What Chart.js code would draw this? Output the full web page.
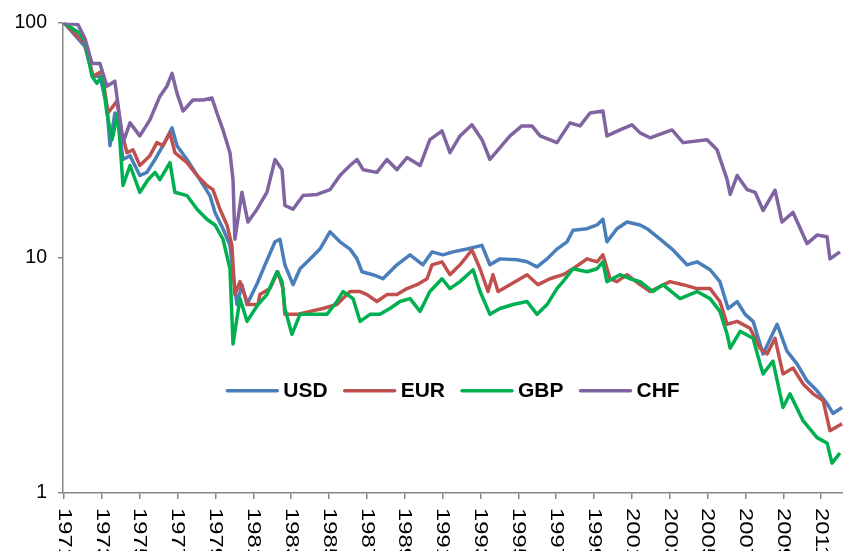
<!DOCTYPE html>
<html>
<head>
<meta charset="utf-8">
<script src="https://cdn.jsdelivr.net/npm/chart.js@4/dist/chart.umd.min.js"></script>
<style>
  html, body { margin: 0; padding: 0; background: #fff; }
  #wrap { position: relative; width: 843px; height: 551px; }
</style>
</head>
<body>
<div id="wrap"><canvas id="fxChart"></canvas></div>
<script>
// valores (índice, 1971 = 100), escala log
const tickYears = [1971, 1973, 1975, 1977, 1979, 1981, 1983, 1985, 1987, 1989, 1991,
                   1993, 1995, 1997, 1999, 2001, 2003, 2005, 2007, 2009, 2011];
const yTicks = [1, 10, 100];

const usdYears = [1971, 1972.11, 1972.53, 1972.90, 1973.27, 1973.43, 1973.69, 1973.85, 1974.12, 1974.49,
                  1975.01, 1975.38, 1975.81, 1976.23, 1976.71, 1976.97, 1977.50, 1978.18, 1978.71, 1978.98,
                  1979.40, 1979.77, 1980.03, 1980.14, 1980.40, 1980.67, 1981.25, 1981.62, 1982.15, 1982.41,
                  1982.67, 1983.10, 1983.47, 1984.00, 1984.52, 1985.05, 1985.58, 1986.11, 1986.48, 1986.74,
                  1987.32, 1987.85, 1988.59, 1989.28, 1989.96, 1990.44, 1991.02, 1991.55, 1992.29, 1993.08,
                  1993.50, 1994.03, 1994.93, 1995.46, 1995.99, 1996.52, 1997.04, 1997.57, 1997.89, 1998.63,
                  1999.16, 1999.47, 1999.68, 2000.21, 2000.74, 2001.43, 2001.80, 2002.49, 2003.12, 2003.91,
                  2004.44, 2005.13, 2005.65, 2006.08, 2006.56, 2006.98, 2007.40, 2007.93, 2008.67, 2009.19,
                  2009.72, 2010.25, 2010.78, 2011.31, 2011.62, 2012.10];
const usdValues = [100, 79.2, 59.2, 59.2, 44.2, 30.0, 41.3, 38.6, 26.2, 27.2,
                   22.4, 23.1, 26.2, 30.0, 35.7, 30.0, 26.2, 21.5, 18.4, 15.6,
                   13.3, 11.3, 7.40, 6.33, 7.69, 6.33, 7.92, 9.34, 11.7, 12.0,
                   9.34, 7.69, 8.99, 9.90, 10.9, 12.9, 11.7, 10.9, 9.90, 8.73,
                   8.48, 8.15, 9.34, 10.3, 9.34, 10.6, 10.3, 10.6, 10.9, 11.3,
                   9.34, 9.90, 9.81, 9.62, 9.16, 9.90, 10.9, 11.7, 13.1, 13.3,
                   13.8, 14.6, 11.7, 13.3, 14.2, 13.8, 13.3, 12.0, 10.9, 9.34,
                   9.62, 8.90, 7.92, 6.09, 6.52, 5.75, 5.37, 3.90, 5.22, 4.01,
                   3.54, 3.00, 2.72, 2.40, 2.18, 2.31];

const eurYears = [1971, 1972.11, 1972.53, 1973.01, 1973.32, 1973.80, 1974.06, 1974.33, 1974.65, 1975.01,
                  1975.54, 1975.91, 1976.23, 1976.60, 1976.86, 1977.50, 1978.03, 1978.55, 1978.87, 1979.24,
                  1979.61, 1979.87, 1980.03, 1980.30, 1980.72, 1981.25, 1981.35, 1981.88, 1982.30, 1982.57,
                  1982.67, 1983.31, 1984.00, 1984.68, 1985.42, 1986.11, 1986.64, 1987.01, 1987.53, 1988.06,
                  1988.59, 1989.12, 1989.65, 1990.18, 1990.44, 1990.97, 1991.39, 1991.92, 1992.55, 1992.98,
                  1993.40, 1993.66, 1993.93, 1994.56, 1995.46, 1996.04, 1996.67, 1997.36, 1997.89, 1998.63,
                  1999.16, 1999.47, 1999.84, 2000.21, 2000.74, 2001.43, 2001.96, 2003.01, 2003.70, 2004.44,
                  2005.13, 2005.65, 2006.03, 2006.56, 2007.24, 2007.77, 2008.14, 2008.56, 2008.98, 2009.51,
                  2010.04, 2010.57, 2011.10, 2011.46, 2012.10];
const eurValues = [100, 81.5, 59.2, 62.1, 41.3, 46.4, 34.0, 28.0, 28.8, 24.7,
                   27.2, 30.9, 30.0, 34.0, 28.0, 25.4, 22.4, 20.3, 19.5, 16.1,
                   13.8, 11.3, 6.98, 7.92, 6.33, 6.33, 6.98, 7.40, 8.73, 7.40,
                   5.75, 5.75, 5.92, 6.09, 6.33, 7.19, 7.19, 6.98, 6.52, 6.98,
                   6.98, 7.40, 7.69, 8.15, 9.34, 9.62, 8.48, 9.34, 10.8, 8.99,
                   7.19, 8.48, 7.19, 7.69, 8.48, 7.69, 8.15, 8.48, 8.99, 9.90,
                   9.62, 10.3, 8.15, 7.92, 8.48, 7.69, 7.19, 7.92, 7.69, 7.40,
                   7.40, 6.52, 5.22, 5.37, 5.02, 4.13, 3.90, 4.55, 3.21, 3.40,
                   2.91, 2.64, 2.47, 1.84, 1.97];

const gbpYears = [1971, 1971.85, 1972.11, 1972.48, 1972.74, 1973.01, 1973.27, 1973.54, 1973.85, 1974.12,
                  1974.49, 1975.01, 1975.44, 1975.81, 1976.07, 1976.60, 1976.86, 1977.50, 1978.03, 1978.55,
                  1978.98, 1979.40, 1979.77, 1979.93, 1980.30, 1980.67, 1981.25, 1981.72, 1982.25, 1982.52,
                  1982.67, 1983.04, 1983.47, 1984.15, 1984.89, 1985.42, 1985.74, 1986.27, 1986.64, 1987.17,
                  1987.69, 1988.22, 1988.75, 1989.28, 1989.81, 1990.33, 1990.97, 1991.39, 1991.92, 1992.61,
                  1992.98, 1993.50, 1994.03, 1994.72, 1995.46, 1995.99, 1996.52, 1997.04, 1997.36, 1997.89,
                  1998.63, 1999.16, 1999.47, 1999.68, 2000.37, 2000.90, 2001.43, 2002.11, 2002.64, 2003.54,
                  2004.44, 2005.13, 2005.65, 2006.03, 2006.19, 2006.72, 2007.40, 2007.77, 2007.93, 2008.45,
                  2008.98, 2009.35, 2010.04, 2010.78, 2011.31, 2011.57, 2011.99];
const gbpValues = [100, 89.9, 83.2, 59.2, 55.3, 59.2, 41.3, 31.8, 41.3, 20.3,
                   24.7, 19.0, 21.5, 23.1, 21.5, 25.4, 19.0, 18.4, 16.1, 14.6,
                   13.8, 12.0, 8.99, 4.30, 6.71, 5.37, 6.33, 6.98, 8.73, 7.92,
                   6.09, 4.73, 5.75, 5.75, 5.75, 6.52, 7.19, 6.71, 5.37, 5.75,
                   5.75, 6.09, 6.52, 6.71, 5.92, 7.19, 8.15, 7.40, 7.92, 8.90,
                   7.19, 5.75, 6.09, 6.33, 6.52, 5.75, 6.33, 7.40, 7.92, 8.99,
                   8.73, 8.99, 9.62, 7.92, 8.48, 8.15, 7.92, 7.19, 7.69, 6.71,
                   7.19, 6.71, 5.92, 4.73, 4.13, 4.87, 4.55, 3.54, 3.21, 3.64,
                   2.31, 2.64, 2.03, 1.72, 1.63, 1.34, 1.48];

const chfYears = [1971, 1971.74, 1972.11, 1972.48, 1972.90, 1973.27, 1973.69, 1974.12, 1974.49, 1975.01,
                  1975.54, 1976.07, 1976.44, 1976.71, 1976.97, 1977.29, 1977.81, 1978.34, 1978.82, 1979.08,
                  1979.40, 1979.77, 1979.93, 1980.03, 1980.40, 1980.72, 1981.20, 1981.72, 1982.15, 1982.52,
                  1982.67, 1983.10, 1983.63, 1984.37, 1985.05, 1985.58, 1986.11, 1986.48, 1986.80, 1987.53,
                  1988.06, 1988.59, 1989.12, 1989.81, 1990.33, 1990.97, 1991.39, 1991.92, 1992.55, 1993.08,
                  1993.50, 1993.93, 1994.56, 1995.19, 1995.72, 1996.15, 1997.04, 1997.73, 1998.26, 1998.79,
                  1999.47, 1999.68, 2000.37, 2001.00, 2001.43, 2001.96, 2003.12, 2003.70, 2004.97, 2005.50,
                  2006.03, 2006.19, 2006.56, 2007.09, 2007.51, 2007.93, 2008.56, 2008.93, 2009.51, 2010.25,
                  2010.78, 2011.31, 2011.46, 2011.99];
const chfValues = [100, 98.1, 85.6, 67.1, 67.1, 53.7, 56.4, 30.9, 37.5, 33.0,
                   38.6, 48.7, 53.7, 60.9, 50.2, 42.1, 46.9, 46.9, 47.8, 41.3,
                   35.0, 28.0, 21.5, 12.0, 19.0, 14.2, 16.1, 19.0, 26.2, 23.7,
                   16.7, 16.1, 18.4, 18.6, 19.5, 22.4, 24.7, 26.2, 23.7, 23.1,
                   26.2, 23.7, 26.7, 24.7, 31.8, 34.7, 28.0, 33.0, 36.8, 31.8,
                   26.2, 28.8, 33.0, 36.4, 36.4, 33.0, 30.9, 37.5, 36.4, 41.3,
                   42.1, 33.0, 35.0, 36.8, 34.0, 32.4, 35.0, 30.9, 31.8, 28.8,
                   21.5, 18.6, 22.4, 19.5, 19.0, 15.9, 19.4, 14.2, 15.6, 11.5,
                   12.5, 12.3, 9.9, 10.6];

const FONT = '"Liberation Sans", Arial, sans-serif';
const AXIS_GRAY = '#868686';

function toPoints(xs, ys) {
    const n = Math.min(xs.length, ys.length);
    const pts = [];
    for (let i = 0; i < n; i++) pts.push({ x: xs[i], y: ys[i] });
    return pts;
}

function serie(label, xs, ys, color, order) {
    return {
        label: label,
        data: toPoints(xs, ys),
        borderColor: color,
        backgroundColor: color,
        borderWidth: 3.5,
        pointRadius: 0,
        tension: 0,
        borderJoinStyle: 'round',
        order: order
    };
}

// rótulos do eixo x girados no sentido horário (lidos de cima para baixo)
const xLabelsPlugin = {
    id: 'xLabels',
    afterDraw(chart) {
        const ctx = chart.ctx;
        const scale = chart.scales.x;
        const top = chart.chartArea.bottom + 15;
        ctx.save();
        ctx.font = '19px ' + FONT;
        ctx.fillStyle = '#000';
        ctx.textAlign = 'left';
        ctx.textBaseline = 'middle';
        tickYears.forEach(function (yr) {
            const x = scale.getPixelForValue(yr);
            ctx.save();
            ctx.translate(x, top);
            ctx.rotate(Math.PI / 2);
            ctx.scale(1.25, 1); // no original o texto sai esticado
            ctx.fillText(String(yr), 0, 0);
            ctx.restore();
        });
        ctx.restore();
    }
};

// legenda dentro da área do gráfico
const innerLegendPlugin = {
    id: 'innerLegend',
    afterDraw(chart) {
        const ctx = chart.ctx;
        const area = chart.chartArea;
        const sets = chart.data.datasets;
        const lineW = 52, gapText = 5, gapItem = 16;
        ctx.save();
        ctx.font = 'bold 21px ' + FONT;
        let total = 0;
        sets.forEach(function (ds, i) {
            total += lineW + gapText + ctx.measureText(ds.label).width;
            if (i < sets.length - 1) total += gapItem;
        });
        let x = (area.left + area.right) / 2 - total / 2;
        const y = area.top + 368;
        ctx.textBaseline = 'middle';
        ctx.textAlign = 'left';
        sets.forEach(function (ds) {
            ctx.strokeStyle = ds.borderColor;
            ctx.lineWidth = 3.5;
            ctx.lineCap = 'round';
            ctx.beginPath();
            ctx.moveTo(x + 1, y);
            ctx.lineTo(x + lineW - 1, y);
            ctx.stroke();
            x += lineW + gapText;
            ctx.fillStyle = '#000';
            ctx.fillText(ds.label, x, y + 1);
            x += ctx.measureText(ds.label).width + gapItem;
        });
        ctx.restore();
    }
};

const ctx = document.getElementById('fxChart').getContext('2d');
window._fxChart = new Chart(ctx, {
    type: 'line',
    data: {
        datasets: [
            serie('USD', usdYears, usdValues, '#4A7EBB', 4),
            serie('EUR', eurYears, eurValues, '#C0504D', 3),
            serie('GBP', gbpYears, gbpValues, '#00B050', 2),
            serie('CHF', chfYears, chfValues, '#8064A2', 1)
        ]
    },
    options: {
        responsive: true,
        maintainAspectRatio: false,
        animation: false,
        layout: { padding: { top: 19, right: 0, left: 0, bottom: 0 } },
        plugins: {
            legend: { display: false },
            tooltip: { enabled: false }
        },
        scales: {
            x: {
                type: 'linear',
                min: 1970.95,
                max: 2012.15,
                afterBuildTicks: function (scale) {
                    scale.ticks = tickYears.map(function (v) { return { value: v }; });
                },
                afterFit: function (scale) { scale.height = 58; },
                ticks: { display: false },
                grid: { display: true, drawOnChartArea: false, drawTicks: true, tickLength: 6, color: AXIS_GRAY, lineWidth: 1.5 },
                border: { display: true, color: AXIS_GRAY, width: 1.5 }
            },
            y: {
                type: 'logarithmic',
                min: 1,
                max: 100,
                afterBuildTicks: function (scale) {
                    scale.ticks = yTicks.map(function (v) { return { value: v }; });
                },
                afterFit: function (scale) { scale.width = 63; },
                ticks: {
                    color: '#000',
                    padding: 11,
                    font: { family: FONT, size: 19.5 },
                    callback: function (value) { return String(value); }
                },
                grid: { display: true, drawOnChartArea: false, drawTicks: true, tickLength: 5, color: AXIS_GRAY, lineWidth: 1.5 },
                border: { display: true, color: AXIS_GRAY, width: 1.5 }
            }
        }
    },
    plugins: [xLabelsPlugin, innerLegendPlugin]
});
</script>
</body>
</html>
